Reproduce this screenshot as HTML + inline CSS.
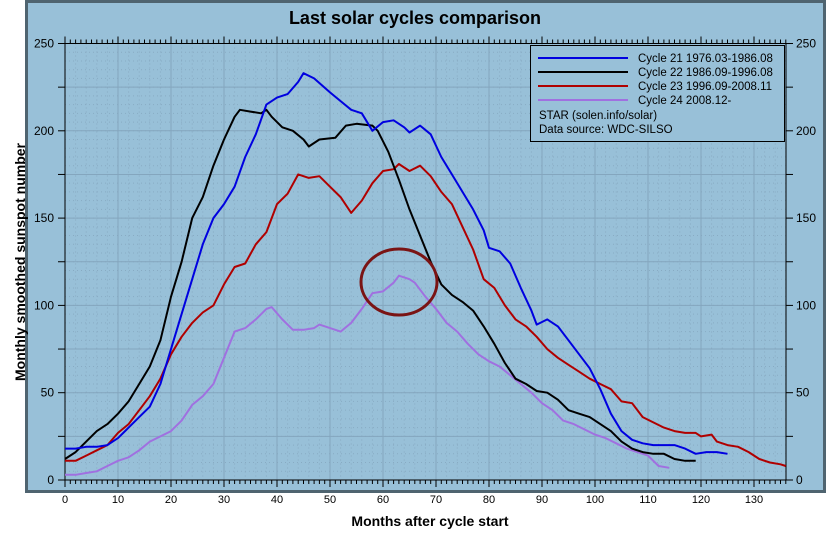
<!DOCTYPE html>
<html><head><meta charset="utf-8"><style>
body{margin:0;background:#fff;width:827px;height:536px;overflow:hidden;font-family:"Liberation Sans",sans-serif}
</style></head><body>
<svg id="chart" width="827" height="536" xmlns="http://www.w3.org/2000/svg">
<rect x="26.5" y="1.5" width="798" height="490" fill="#98c0d8" stroke="#4f6470" stroke-width="3"/>
<text x="415" y="24" text-anchor="middle" font-size="18" font-weight="bold" fill="#000">Last solar cycles comparison</text>
<text transform="translate(25,262) rotate(-90)" text-anchor="middle" font-size="14" font-weight="bold">Monthly smoothed sunspot number</text>
<text x="430" y="526" text-anchor="middle" font-size="14" font-weight="bold">Months after cycle start</text>
<g id="grid"></g><g id="axes"></g><g id="series"></g>
<ellipse cx="399" cy="282" rx="38" ry="33" fill="none" stroke="#7a1414" stroke-width="3"/>
<g>
<rect x="530.5" y="45.5" width="254" height="96" fill="#98c0d8" stroke="#000"/>
<g font-size="11.5" fill="#000">
<line x1="538" y1="58" x2="628" y2="58" stroke="#0000e0" stroke-width="2"/><text x="638" y="62">Cycle 21 1976.03-1986.08</text>
<line x1="538" y1="72" x2="628" y2="72" stroke="#000" stroke-width="2"/><text x="638" y="76">Cycle 22 1986.09-1996.08</text>
<line x1="538" y1="86" x2="628" y2="86" stroke="#b00000" stroke-width="2"/><text x="638" y="90">Cycle 23 1996.09-2008.11</text>
<line x1="538" y1="100" x2="628" y2="100" stroke="#a070e0" stroke-width="2"/><text x="638" y="104">Cycle 24 2008.12-</text>
<text x="539" y="119">STAR (solen.info/solar)</text>
<text x="539" y="133">Data source: WDC-SILSO</text>
</g></g>
</svg>
<script>
const xTicks=[0,10,20,30,40,50,60,70,80,90,100,110,120,130];
const yTicks=[0,50,100,150,200,250];
const c21m=[0,2,4,6,8,10,12,14,16,18,20,22,24,26,28,30,32,34,36,38,40,42,44,45,47,50,52,54,56,58,60,62,64,65,67,69,71,73,75,77,79,80,82,84,86,88,89,91,93,95,97,99,101,103,105,107,109,111,113,115,117,119,121,123,125];
const c21v=[18,18,19,19,20,24,30,36,42,55,75,95,115,135,150,158,168,185,198,215,219,221,228,233,230,222,217,212,210,200,205,206,202,199,203,198,185,175,165,155,143,133,131,124,110,97,89,92,88,80,72,64,52,38,28,23,21,20,20,20,18,15,16,16,15];
const c22m=[0,2,4,6,8,10,12,14,16,18,20,22,24,26,28,30,32,33,35,37,38,39,41,43,45,46,48,51,53,55,58,59,61,63,65,67,69,71,73,75,77,79,81,83,85,87,89,91,93,95,97,99,101,103,105,107,109,111,113,115,117,119];
const c22v=[12,16,22,28,32,38,45,55,65,80,105,125,150,162,180,195,208,212,211,210,212,208,202,200,195,191,195,196,203,204,203,200,188,172,155,140,125,112,106,102,97,88,78,67,58,55,51,50,46,40,38,36,32,28,22,18,16,15,15,12,11,11];
const c23m=[0,2,4,6,8,10,12,14,16,18,20,22,24,26,28,30,32,34,36,38,40,42,44,46,48,50,52,54,56,58,60,62,63,65,67,69,71,73,75,77,79,81,83,85,87,89,91,93,95,97,99,101,103,105,107,109,111,113,115,117,119,120,122,123,125,127,129,131,133,135,136];
const c23v=[11,11,14,17,20,27,32,40,48,58,72,82,90,96,100,112,122,124,135,142,158,164,175,173,174,168,162,153,160,170,177,178,181,177,180,174,165,158,145,132,115,110,100,92,88,82,75,70,66,62,58,55,52,45,44,36,33,30,28,27,27,25,26,22,20,19,16,12,10,9,8];
const c24m=[0,2,4,6,8,10,12,14,16,18,20,22,24,26,28,30,32,34,36,38,39,41,43,45,47,48,50,52,54,56,58,60,62,63,65,66,68,70,72,74,76,78,80,82,84,86,88,90,92,94,96,98,100,102,104,106,108,110,112,114];
const c24v=[3,3,4,5,8,11,13,17,22,25,28,34,43,48,55,70,85,87,92,98,99,92,86,86,87,89,87,85,90,98,107,108,113,117,115,113,105,98,90,85,78,72,68,65,60,55,50,44,40,34,32,29,26,24,21,18,16,14,8,7];
const NS="http://www.w3.org/2000/svg";
const X0=65,XR=786,PX=5.3,Y0=480,YT=43.5,YMAX=250;
const sx=m=>X0+m*PX, sy=v=>Y0-v*(Y0-YT)/YMAX;
function mk(tag,attrs,parent){const e=document.createElementNS(NS,tag);for(const k in attrs)e.setAttribute(k,attrs[k]);parent.appendChild(e);return e;}
const grid=document.getElementById('grid'),axes=document.getElementById('axes'),ser=document.getElementById('series');
for(let m=2;m<=136;m+=2){const g=mk('line',{x1:sx(m),x2:sx(m),y1:YT,y2:Y0,stroke:'#88abc3','stroke-width':1,'stroke-dasharray':'1 3'},grid);}
for(let v=5;v<250;v+=5){const g=mk('line',{x1:X0,x2:XR,y1:sy(v),y2:sy(v),stroke:'#88abc3','stroke-width':1,'stroke-dasharray':'1 3'},grid);}
xTicks.forEach(t=>{const g=mk('line',{x1:sx(t),x2:sx(t),y1:YT,y2:Y0,stroke:'#84a6be','stroke-width':1},grid);});
for(let v=25;v<250;v+=25){const g=mk('line',{x1:X0,x2:XR,y1:sy(v),y2:sy(v),stroke:'#84a6be','stroke-width':1},grid);}
let a=mk('line',{x1:X0,x2:X0,y1:YT,y2:Y0,stroke:'#000'},axes);
a=mk('line',{x1:XR,x2:XR,y1:YT,y2:Y0,stroke:'#000'},axes);
a=mk('line',{x1:X0,x2:XR,y1:Y0,y2:Y0,stroke:'#000'},axes);
a=mk('line',{x1:X0,x2:XR,y1:YT,y2:YT,stroke:'#000'},axes);
for(let m=0;m<=136;m++){const L=(m%10==0)?7:4;
 let t=mk('line',{x1:sx(m),x2:sx(m),y1:Y0,y2:Y0+L,stroke:'#000'},axes);
 t=mk('line',{x1:sx(m),x2:sx(m),y1:YT,y2:YT-L,stroke:'#000'},axes);}
xTicks.forEach(t=>{const e=mk('text',{x:sx(t),y:503,'text-anchor':'middle','font-size':11},axes);e.textContent=t;});
for(let v=0;v<=250;v+=25){
 let t=mk('line',{x1:X0-7,x2:X0,y1:sy(v),y2:sy(v),stroke:'#000'},axes);
 t=mk('line',{x1:XR,x2:XR+7,y1:sy(v),y2:sy(v),stroke:'#000'},axes);}
yTicks.forEach(v=>{let e=mk('text',{x:X0-11,y:sy(v)+4,'text-anchor':'end','font-size':12},axes);e.textContent=v;
 e=mk('text',{x:XR+10,y:sy(v)+4,'font-size':12},axes);e.textContent=v;});
function line(ms,vs,col,name){const d=ms.map((m,i)=>(i?'L':'M')+sx(m).toFixed(1)+','+sy(vs[i]).toFixed(1)).join('');
 const p=mk('path',{d:d,fill:'none',stroke:col,'stroke-width':2,'stroke-linejoin':'round'},ser);
 
 }
line(c24m,c24v,'#a070e0','series-cycle24');
line(c23m,c23v,'#b00000','series-cycle23');
line(c22m,c22v,'#000000','series-cycle22');
line(c21m,c21v,'#0000e0','series-cycle21');
</script>
</body></html>
